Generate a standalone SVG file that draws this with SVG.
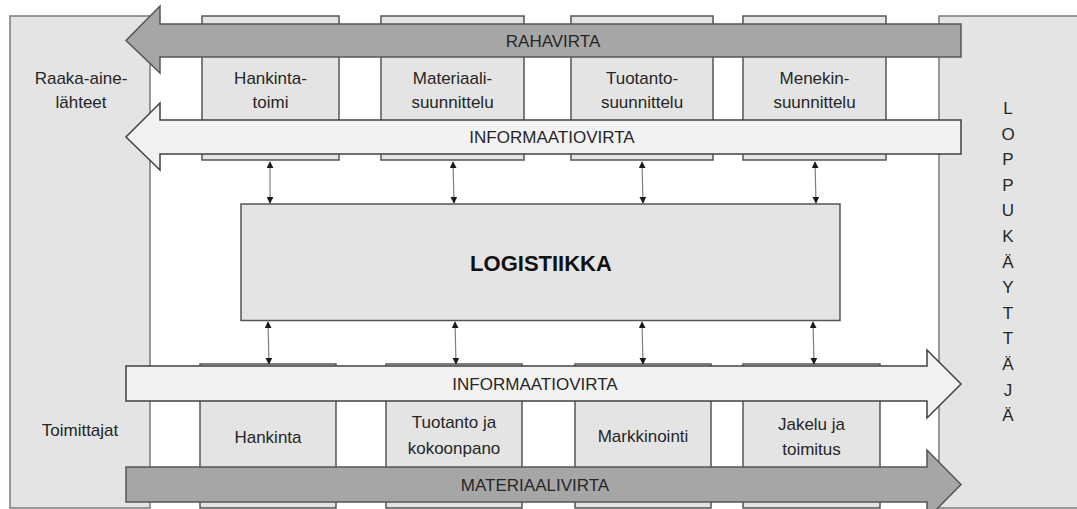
<svg xmlns="http://www.w3.org/2000/svg" width="1077" height="509" viewBox="0 0 1077 509">
  <style>
    .side { fill: #e4e4e4; stroke: #7a7a7a; stroke-width: 1.5; }
    .box { fill: #e4e4e4; stroke: #555555; stroke-width: 1.5; }
    .money { fill: #a6a6a6; stroke: #555555; stroke-width: 1.5; }
    .info { fill: #f2f2f2; stroke: #404040; stroke-width: 1.5; }
    .t { font-family: "Liberation Sans", Arial, sans-serif; font-size: 17px; fill: #262626; text-anchor: middle; }
    .big { font-family: "Liberation Sans", Arial, sans-serif; font-size: 22px; font-weight: bold; fill: #111111; text-anchor: middle; }
    .link { stroke: #7f7f7f; stroke-width: 1.2; fill: none; marker-start: url(#ah); marker-end: url(#ah); }
  </style>
  <defs>
    <marker id="ah" viewBox="0 0 10 10" refX="9" refY="5" markerWidth="7" markerHeight="7" markerUnits="userSpaceOnUse" orient="auto-start-reverse">
      <path d="M0,0 L10,5 L0,10 Z" fill="#1a1a1a"/>
    </marker>
  </defs>
  <rect width="1077" height="509" fill="#ffffff"/>

  <!-- end parties -->
  <g id="raaka-aine">
    <rect class="side" x="10" y="16" width="140" height="492"/>
    <text class="t" x="81" y="84">Raaka-aine-</text>
    <text class="t" x="81" y="108">lähteet</text>
  </g>
  <g id="toimittajat">
    <text class="t" x="80" y="436">Toimittajat</text>
  </g>
  <g id="loppukayttaja">
    <rect class="side" x="939" y="16" width="150" height="492"/>
    <text class="t" x="1008" y="114">L</text>
    <text class="t" x="1008" y="139.6">O</text>
    <text class="t" x="1008" y="165.2">P</text>
    <text class="t" x="1008" y="190.8">P</text>
    <text class="t" x="1008" y="216.4">U</text>
    <text class="t" x="1008" y="242">K</text>
    <text class="t" x="1008" y="267.6">Ä</text>
    <text class="t" x="1008" y="293.2">Y</text>
    <text class="t" x="1008" y="318.8">T</text>
    <text class="t" x="1008" y="344.4">T</text>
    <text class="t" x="1008" y="370">Ä</text>
    <text class="t" x="1008" y="395.6">J</text>
    <text class="t" x="1008" y="421.2">Ä</text>
  </g>

  <!-- planning functions -->
  <g id="hankintatoimi">
    <rect class="box" x="202" y="16" width="137" height="144"/>
    <text class="t" x="270.5" y="84">Hankinta-</text>
    <text class="t" x="270.5" y="108">toimi</text>
  </g>
  <g id="materiaalisuunnittelu">
    <rect class="box" x="381" y="16" width="143" height="144"/>
    <text class="t" x="452.5" y="84">Materiaali-</text>
    <text class="t" x="452.5" y="108">suunnittelu</text>
  </g>
  <g id="tuotantosuunnittelu">
    <rect class="box" x="571" y="16" width="142" height="144"/>
    <text class="t" x="642" y="84">Tuotanto-</text>
    <text class="t" x="642" y="108">suunnittelu</text>
  </g>
  <g id="menekinsuunnittelu">
    <rect class="box" x="743" y="16" width="143" height="144"/>
    <text class="t" x="814.5" y="84">Menekin-</text>
    <text class="t" x="814.5" y="108">suunnittelu</text>
  </g>

  <!-- operational functions -->
  <g id="hankinta">
    <rect class="box" x="200" y="364" width="136" height="144"/>
    <text class="t" x="268" y="443">Hankinta</text>
  </g>
  <g id="tuotanto-kokoonpano">
    <rect class="box" x="386" y="364" width="136" height="144"/>
    <text class="t" x="454" y="428">Tuotanto ja</text>
    <text class="t" x="454" y="454">kokoonpano</text>
  </g>
  <g id="markkinointi">
    <rect class="box" x="575" y="364" width="136" height="144"/>
    <text class="t" x="643" y="442">Markkinointi</text>
  </g>
  <g id="jakelu-toimitus">
    <rect class="box" x="743" y="364" width="137" height="144"/>
    <text class="t" x="811.5" y="430">Jakelu ja</text>
    <text class="t" x="811.5" y="455">toimitus</text>
  </g>

  <!-- flows -->
  <g id="rahavirta">
    <path class="money" d="M961,24 L160,24 L160,6 L126,40.5 L160,73 L160,57 L961,57 Z"/>
    <text class="t" x="553" y="47">RAHAVIRTA</text>
  </g>
  <g id="informaatiovirta-ylä">
    <path class="info" d="M961,120 L160,120 L160,103 L126,137 L160,170 L160,154 L961,154 Z"/>
    <text class="t" x="552" y="143">INFORMAATIOVIRTA</text>
  </g>
  <g id="informaatiovirta-ala">
    <path class="info" d="M126,366 L927,366 L927,350 L961,384 L927,418 L927,401 L126,401 Z"/>
    <text class="t" x="535" y="390">INFORMAATIOVIRTA</text>
  </g>
  <g id="materiaalivirta">
    <path class="money" d="M126,467 L927,467 L927,450 L961,484.5 L927,519 L927,502 L126,502 Z"/>
    <text class="t" x="535" y="491">MATERIAALIVIRTA</text>
  </g>

  <!-- core -->
  <g id="logistiikka">
    <rect class="box" x="241" y="204" width="599" height="116.5"/>
    <text class="big" x="541" y="271">LOGISTIIKKA</text>
  </g>

  <!-- connections between functions and logistics -->
  <g id="connectors">
    <line class="link" x1="270" y1="162" x2="270" y2="203"/>
    <line class="link" x1="453" y1="162" x2="454" y2="203"/>
    <line class="link" x1="642" y1="162" x2="643" y2="203"/>
    <line class="link" x1="815" y1="162" x2="816" y2="203"/>
    <line class="link" x1="268" y1="322" x2="269" y2="364"/>
    <line class="link" x1="455" y1="322" x2="456" y2="364"/>
    <line class="link" x1="642" y1="322" x2="643" y2="364"/>
    <line class="link" x1="813" y1="322" x2="814" y2="364"/>
  </g>
</svg>
